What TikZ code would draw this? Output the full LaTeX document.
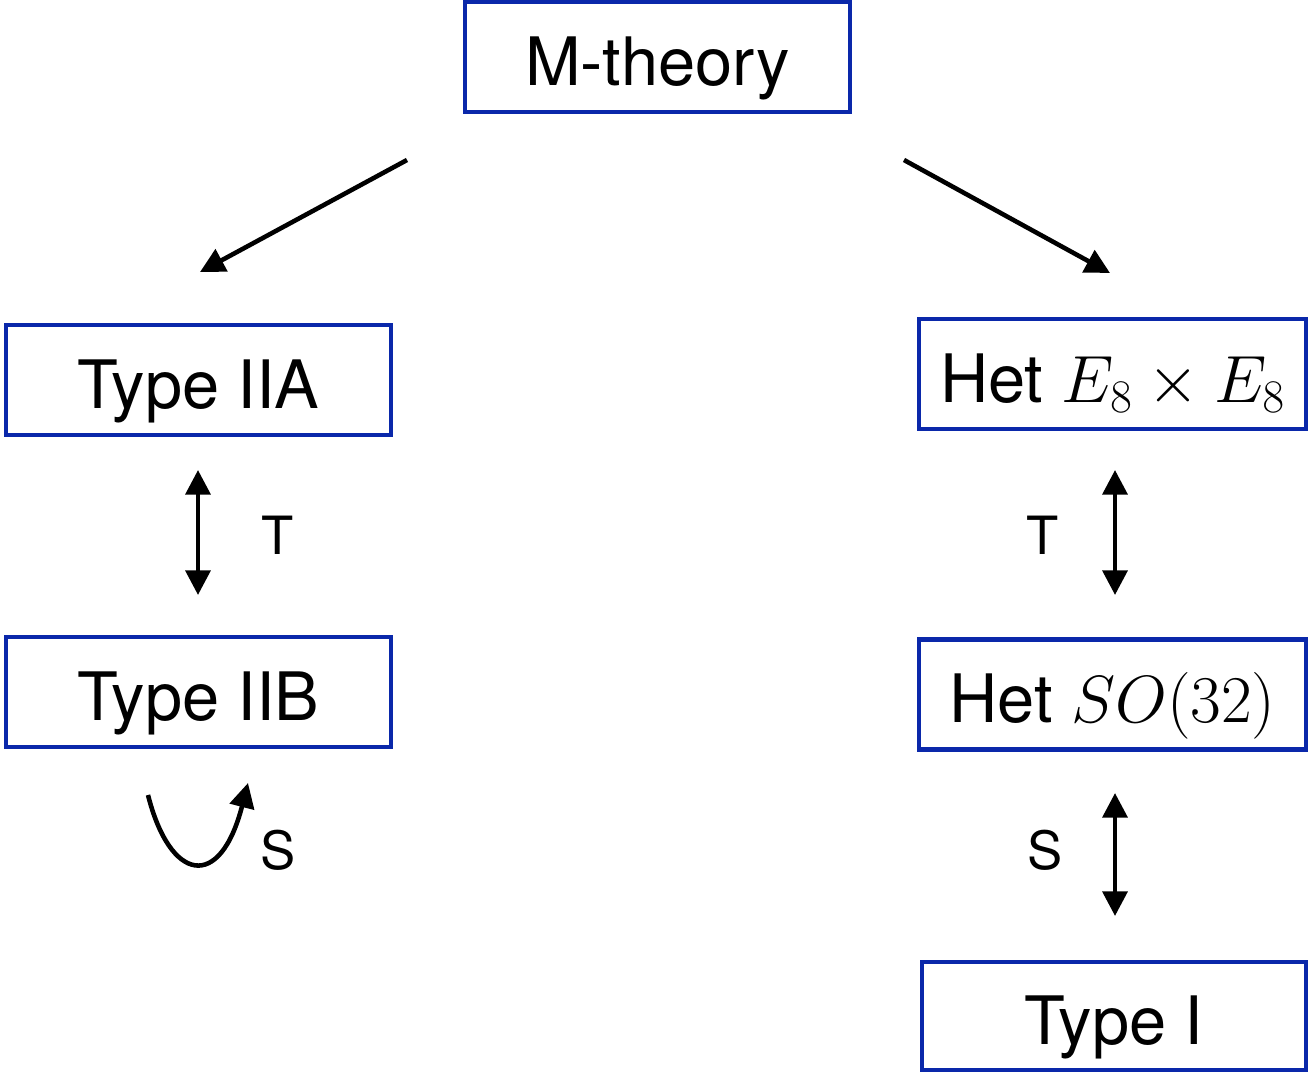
\RequirePackage{fix-cm}
\documentclass[tikz,border=0pt]{standalone}
\usepackage[no-math]{fontspec}
\setmainfont{TeX Gyre Heros}
\usepackage{xcolor}
\definecolor{BoxBlue}{HTML}{0A28AA}
\usepackage{tikz}
\usetikzlibrary{arrows.meta, positioning}

\begin{document}
\begin{tikzpicture}[scale=1.0]
    % string dualities — boxes and maps
\tikzset{
  theory/.style={draw=BoxBlue, line width=2.8pt, minimum width=7.7cm,
    minimum height=2.2cm, inner sep=0pt, text height=40pt, text depth=8pt,
    font=\fontsize{38}{44}\selectfont},
  duality/.style={line width=2.6pt, {Triangle[length=14pt,width=14pt]}-{Triangle[length=14pt,width=14pt]}},
  limit/.style={line width=2.6pt, -{Triangle[length=14pt,width=14pt]}},
  dlabel/.style={font=\fontsize{30}{36}\selectfont},
}
  \useasboundingbox (0,0) rectangle (26.16,21.44);

  % Top: eleven dimensions
  \node[theory] (mth) at (13.15,20.3) {M-theory};

  % Left column
  \node[theory] (iia) at (3.97,13.84) {Type IIA};
  \node[theory] (iib) at (3.97,7.6) {Type IIB};

  % Right column
  \node[theory, minimum width=7.74cm] (hete) at (22.25,13.96) {Het $E_8\times E_8$};
  \node[theory, minimum width=7.74cm] (hetso) at (22.25,7.55) {Het $SO(32)$};
  \node[theory, minimum width=7.68cm, minimum height=2.16cm] (ti) at (22.28,1.12) {Type I};

  % Arrow ends (free)
  \coordinate (mleft) at (8.14,18.24);
  \coordinate (aleft) at (4.0,16.0);
  \coordinate (mright) at (18.08,18.24);
  \coordinate (aright) at (22.2,15.98);
  \coordinate (tla) at (3.96,12.04);
  \coordinate (tlb) at (3.96,9.54);
  \coordinate (tra) at (22.3,12.04);
  \coordinate (trb) at (22.3,9.54);
  \coordinate (sra) at (22.3,5.58);
  \coordinate (srb) at (22.3,3.12);
  \coordinate (sla) at (2.96,5.54);
  \coordinate (slb) at (4.96,5.78);

  % Limits of M-theory
  \draw[limit] (mleft) -- (aleft);
  \draw[limit] (mright) -- (aright);

  % T-dualities
  \draw[duality] (tla) -- (tlb);
  \node[dlabel] (tl) at (5.56,10.74) {T};
  \draw[duality] (tra) -- (trb);
  \node[dlabel] (tr) at (20.86,10.74) {T};

  % S-dualities
  \draw[duality] (sra) -- (srb);
  \node[dlabel] (sr) at (20.9,4.44) {S};
  \draw[limit] (sla) .. controls (3.4,3.8) and (4.4,3.6) .. (slb);
  \node[dlabel] (sl) at (5.56,4.44) {S};

  \end{tikzpicture}
\end{document}
